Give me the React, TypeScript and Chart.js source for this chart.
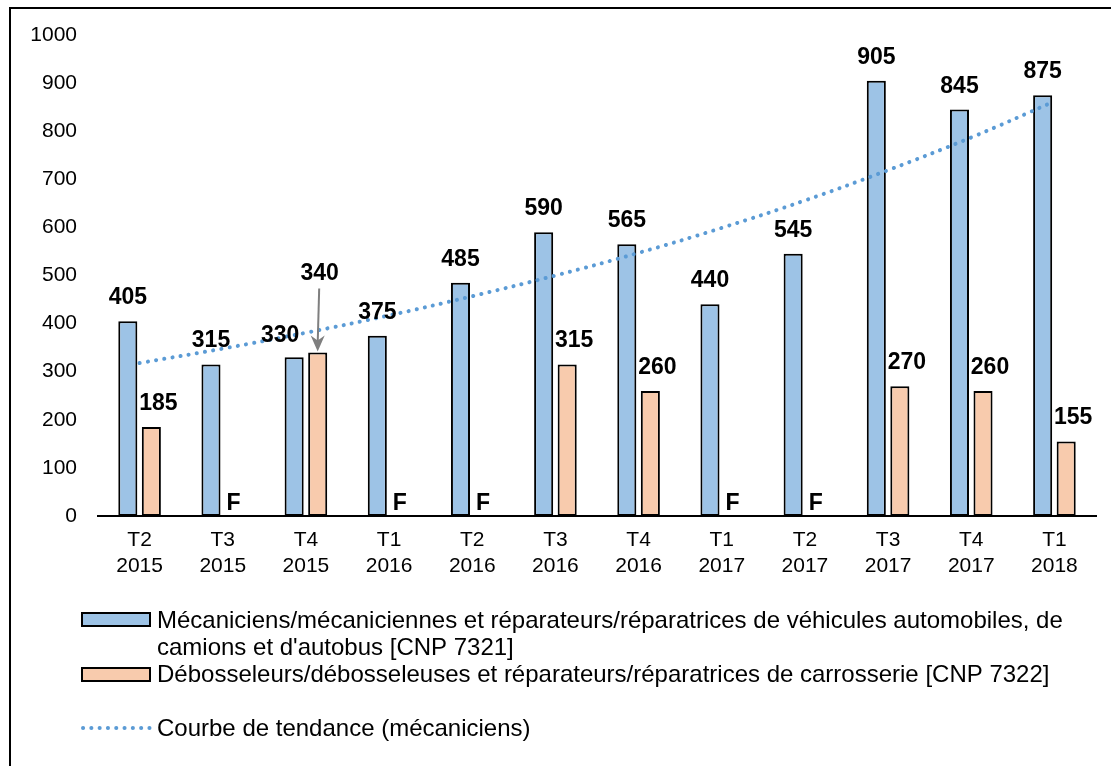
import React, { useEffect, useRef } from "react";
import { Chart, registerables } from "chart.js";

Chart.register(...registerables);

const quarters = ["T2", "T3", "T4", "T1", "T2", "T3", "T4", "T1", "T2", "T3", "T4", "T1"];
const years = ["2015", "2015", "2015", "2016", "2016", "2016", "2016", "2017", "2017", "2017", "2017", "2018"];
const mecaniciens = [405, 315, 330, 375, 485, 590, 565, 440, 545, 905, 845, 875];
const debosseleurs: (number | null)[] = [185, null, 340, null, null, 315, 260, null, null, 270, 260, 155];
const tendance = [318, 348, 381, 417, 457, 500, 547, 599, 656, 719, 787, 862];
const yMin = 0;
const yMax = 1000;
const yStep = 100;
const missingLabel = "F";
const legendMec = [
  "Mécaniciens/mécaniciennes et réparateurs/réparatrices de véhicules automobiles, de",
  "camions et d'autobus [CNP 7321]",
];
const legendDeb = ["Débosseleurs/débosseleuses et réparateurs/réparatrices de carrosserie [CNP 7322]"];
const legendTrend = ["Courbe de tendance (mécaniciens)"];

const FONT = "'Liberation Sans', Arial, sans-serif";
const BLUE = "#9DC3E6";
const ORANGE = "#F8CBAD";
const TREND = "#5B9BD5";

const overlayPlugin = {
  id: "overlay",
  beforeDraw(chart: any) {
    const ctx = chart.ctx;
    ctx.save();
    ctx.fillStyle = "#fff";
    ctx.fillRect(0, 0, chart.width, chart.height);
    ctx.strokeStyle = "#000";
    ctx.lineWidth = 2;
    ctx.beginPath();
    ctx.moveTo(10, chart.height);
    ctx.lineTo(10, 8);
    ctx.lineTo(chart.width, 8);
    ctx.stroke();
    ctx.restore();
  },
  afterDatasetsDraw(chart: any) {
    const ctx = chart.ctx;
    const blueMeta = chart.getDatasetMeta(0);
    const orangeMeta = chart.getDatasetMeta(1);
    ctx.save();
    ctx.fillStyle = "#000";
    ctx.font = `bold 23px ${FONT}`;
    ctx.textAlign = "center";
    ctx.textBaseline = "alphabetic";
    mecaniciens.forEach((v, i) => {
      const el = blueMeta.data[i];
      const dx = i === 2 ? -14 : 0;
      const gap = i === 2 ? 15 : 17;
      ctx.fillText(String(v), el.x + dx, el.y - gap);
    });
    const slot = orangeMeta.data[0].x - blueMeta.data[0].x;
    debosseleurs.forEach((v, i) => {
      const bx = blueMeta.data[i].x + slot;
      if (v === null) {
        ctx.fillText(missingLabel, bx - 1, chart.chartArea.bottom - 6);
        return;
      }
      const el = orangeMeta.data[i];
      if (i === 2) {
        const ly = el.y - 72;
        ctx.fillText(String(v), bx + 2, ly);
        ctx.strokeStyle = "#7F7F7F";
        ctx.fillStyle = "#7F7F7F";
        ctx.lineWidth = 2;
        const x0 = bx + 1.5;
        const y0 = ly + 8;
        const x1 = bx;
        const y1 = el.y - 1;
        ctx.beginPath();
        ctx.moveTo(x0, y0);
        ctx.lineTo(x1, y1 - 8);
        ctx.stroke();
        ctx.beginPath();
        ctx.moveTo(x1, y1);
        ctx.lineTo(x1 - 7, y1 - 16);
        ctx.lineTo(x1, y1 - 11);
        ctx.lineTo(x1 + 7, y1 - 16);
        ctx.closePath();
        ctx.fill();
        ctx.fillStyle = "#000";
      } else {
        ctx.fillText(String(v), bx + 7, el.y - 17);
      }
    });
    ctx.restore();
  },
  afterDraw(chart: any) {
    const ctx = chart.ctx;
    ctx.save();
    const boxX = 82;
    const boxW = 68;
    const boxH = 13;
    const textX = 157;
    ctx.font = `24px ${FONT}`;
    ctx.textAlign = "left";
    ctx.textBaseline = "alphabetic";
    ctx.lineWidth = 2;
    ctx.strokeStyle = "#000";
    ctx.fillStyle = BLUE;
    ctx.fillRect(boxX, 613, boxW, boxH);
    ctx.strokeRect(boxX, 613, boxW, boxH);
    ctx.fillStyle = "#000";
    ctx.fillText(legendMec[0], textX, 628);
    ctx.fillText(legendMec[1], textX, 655);
    ctx.fillStyle = ORANGE;
    ctx.fillRect(boxX, 668, boxW, boxH);
    ctx.strokeRect(boxX, 668, boxW, boxH);
    ctx.fillStyle = "#000";
    ctx.fillText(legendDeb[0], textX, 682);
    ctx.strokeStyle = TREND;
    ctx.lineWidth = 4;
    ctx.lineCap = "round";
    ctx.setLineDash([0.1, 8.2]);
    ctx.beginPath();
    ctx.moveTo(boxX + 1, 728);
    ctx.lineTo(boxX + boxW, 728);
    ctx.stroke();
    ctx.setLineDash([]);
    ctx.fillText(legendTrend[0], textX, 736);
    ctx.restore();
  },
};

export default function App() {
  const canvasRef = useRef<HTMLCanvasElement | null>(null);

  useEffect(() => {
    if (!canvasRef.current) return;
    const labels = quarters.map((q, i) => [q, years[i]]);
    const chart = new Chart(canvasRef.current, {
      type: "bar",
      data: {
        labels,
        datasets: [
          {
            type: "bar",
            label: legendMec.join(" "),
            data: mecaniciens,
            backgroundColor: BLUE,
            borderColor: "#000",
            borderWidth: 2,
            borderSkipped: false,
            categoryPercentage: 0.566,
            barPercentage: 0.81,
            order: 1,
          },
          {
            type: "bar",
            label: legendDeb[0],
            data: debosseleurs,
            backgroundColor: ORANGE,
            borderColor: "#000",
            borderWidth: 2,
            borderSkipped: false,
            categoryPercentage: 0.566,
            barPercentage: 0.81,
            order: 2,
          },
          {
            type: "line",
            label: legendTrend[0],
            data: tendance,
            borderColor: TREND,
            borderWidth: 4,
            borderDash: [0.1, 8.2],
            borderCapStyle: "round",
            pointRadius: 0,
            fill: false,
            tension: 0.4,
            order: 0,
          },
        ],
      } as any,
      options: {
        responsive: false,
        animation: false,
        devicePixelRatio: 1,
        layout: { padding: { left: 0, right: 15, top: 35, bottom: 190 } },
        plugins: {
          legend: { display: false },
          tooltip: { enabled: false },
        },
        scales: {
          x: {
            grid: { display: false, drawTicks: false },
            border: { display: true, color: "#000", width: 2 },
            ticks: {
              color: "#000",
              font: { family: FONT, size: 21, lineHeight: 1.2 },
              padding: 12,
              maxRotation: 0,
              autoSkip: false,
            },
            afterFit(s: any) {
              s.height = 60;
            },
          },
          y: {
            min: yMin,
            max: yMax,
            ticks: {
              stepSize: yStep,
              color: "#000",
              font: { family: FONT, size: 21 },
              padding: 21,
              callback: (v: any) => String(v),
            },
            grid: { display: false, drawTicks: false },
            border: { display: false },
            afterFit(s: any) {
              s.width = 98;
            },
          },
        },
      } as any,
      plugins: [overlayPlugin],
    });
    return () => chart.destroy();
  }, []);

  return (
    <div style={{ position: "fixed", left: 0, top: 0, width: 1111, height: 766, background: "#fff" }}>
      <canvas ref={canvasRef} width={1111} height={766} style={{ display: "block" }} />
    </div>
  );
}
